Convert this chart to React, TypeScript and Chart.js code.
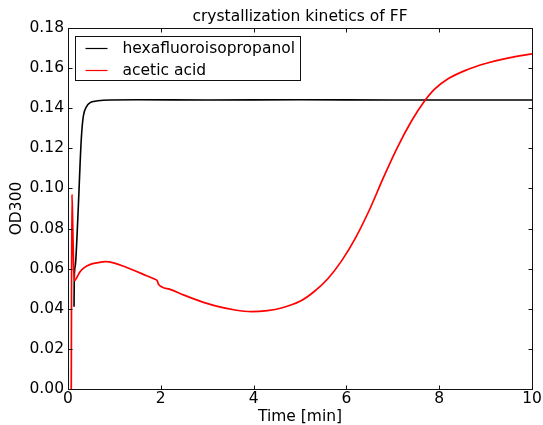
import React, { useEffect, useRef } from "react";
import { Chart, registerables } from "chart.js";

Chart.register(...registerables);

const chartTitle = "crystallization kinetics of FF";
const xAxisTitle = "Time [min]";
const yAxisTitle = "OD300";
const seriesLabels = ["hexafluoroisopropanol", "acetic acid"];
const seriesColors = ["#000000", "#ff0000"];

const xTicks = [0, 2, 4, 6, 8, 10];
const yTicks = [0, 0.02, 0.04, 0.06, 0.08, 0.1, 0.12, 0.14, 0.16, 0.18];

const hfipTime = [0.13, 0.135, 0.16, 0.19, 0.23, 0.26, 0.29, 0.33, 0.4, 0.48, 0.55, 0.76, 1.5, 3, 5, 7, 8, 10];
const hfipOD = [0.041, 0.055, 0.062, 0.074, 0.095, 0.112, 0.126, 0.136, 0.1408, 0.1428, 0.1434, 0.144, 0.1442, 0.1441, 0.1442, 0.1441, 0.1441, 0.1441];

const aceticTime = [0.07, 0.085, 0.1, 0.12, 0.14, 0.2, 0.26, 0.35, 0.47, 0.65, 0.8, 1.0, 1.2, 1.4, 1.6, 1.875, 1.92, 1.95, 2.2, 2.5, 2.8, 3.2, 3.6, 3.95, 4.3, 4.6, 5.0, 5.3, 5.6, 5.9, 6.2, 6.5, 6.8, 7.1, 7.4, 7.65, 7.9, 8.2, 8.6, 9.0, 9.5, 10];
const aceticOD = [0.0, 0.097, 0.084, 0.062, 0.054, 0.056, 0.0585, 0.0605, 0.062, 0.063, 0.0635, 0.0628, 0.0612, 0.0593, 0.0574, 0.0547, 0.0541, 0.0522, 0.0497, 0.0468, 0.0442, 0.0413, 0.0394, 0.0386, 0.0391, 0.0404, 0.0437, 0.0485, 0.055, 0.064, 0.0755, 0.0895, 0.1055, 0.1205, 0.1335, 0.1425, 0.1495, 0.1548, 0.1592, 0.1623, 0.1651, 0.1671];

const FONT = "'DejaVu Sans', sans-serif";
const FS = 15.5;

const framePlugin = {
  id: "frameTicks",
  afterDatasetsDraw(chart: any) {
    const { ctx, chartArea } = chart;
    const { left, right, top, bottom } = chartArea;
    const xs = chart.scales.x;
    const ys = chart.scales.y;
    ctx.save();
    ctx.strokeStyle = "#111";
    ctx.lineWidth = 1;
    const L = Math.round(left) + 0.5;
    const R = Math.round(right) + 0.5;
    const T = Math.round(top) + 0.5;
    const B = Math.round(bottom) + 0.5;
    ctx.strokeRect(L, T, R - L, B - T);
    const len = 4;
    ctx.beginPath();
    xTicks.forEach((v) => {
      const px = Math.round(xs.getPixelForValue(v)) + 0.5;
      ctx.moveTo(px, B);
      ctx.lineTo(px, B - len);
      ctx.moveTo(px, T);
      ctx.lineTo(px, T + len);
    });
    yTicks.forEach((v) => {
      const py = Math.round(ys.getPixelForValue(v)) + 0.5;
      ctx.moveTo(L, py);
      ctx.lineTo(L + len, py);
      ctx.moveTo(R, py);
      ctx.lineTo(R - len, py);
    });
    ctx.stroke();
    ctx.restore();
  },
};

const legendPlugin = {
  id: "insideLegend",
  afterDraw(chart: any) {
    const { ctx, chartArea } = chart;
    const datasets = chart.data.datasets;
    ctx.save();
    ctx.font = `${FS}px ${FONT}`;
    let maxW = 0;
    datasets.forEach((d: any) => {
      maxW = Math.max(maxW, ctx.measureText(d.label).width);
    });
    const boxL = Math.round(chartArea.left + 7) + 0.5;
    const boxT = Math.round(chartArea.top + 8) + 0.5;
    const rowH = 22;
    const lineX0 = boxL + 10;
    const lineX1 = boxL + 32;
    const textX = boxL + 47;
    const boxW = Math.round(textX - boxL + maxW + 5);
    const boxH = Math.round(rowH * datasets.length);
    ctx.fillStyle = "#fff";
    ctx.fillRect(boxL, boxT, boxW, boxH);
    ctx.strokeStyle = "#111";
    ctx.lineWidth = 1;
    ctx.strokeRect(boxL, boxT, boxW, boxH);
    datasets.forEach((d: any, i: number) => {
      const cy = boxT + 11 + i * rowH;
      ctx.strokeStyle = d.borderColor;
      ctx.lineWidth = 1.2;
      ctx.beginPath();
      ctx.moveTo(lineX0, Math.round(cy) + 0.5);
      ctx.lineTo(lineX1, Math.round(cy) + 0.5);
      ctx.stroke();
      ctx.fillStyle = "#000";
      ctx.textBaseline = "middle";
      ctx.textAlign = "left";
      ctx.fillText(d.label, textX, cy + 1);
    });
    ctx.restore();
  },
};

export default function App() {
  const canvasRef = useRef<HTMLCanvasElement | null>(null);

  useEffect(() => {
    const canvas = canvasRef.current;
    if (!canvas) return;
    const chart = new Chart(canvas, {
      type: "line",
      data: {
        datasets: [
          {
            label: seriesLabels[0],
            data: hfipTime.map((t, i) => ({ x: t, y: hfipOD[i] })),
            borderColor: seriesColors[0],
            backgroundColor: seriesColors[0],
            borderWidth: 1.6,
            pointRadius: 0,
            cubicInterpolationMode: "monotone",
            order: 2,
          },
          {
            label: seriesLabels[1],
            data: aceticTime.map((t, i) => ({ x: t, y: aceticOD[i] })),
            borderColor: seriesColors[1],
            backgroundColor: seriesColors[1],
            borderWidth: 1.7,
            pointRadius: 0,
            cubicInterpolationMode: "monotone",
            order: 1,
          },
        ],
      },
      options: {
        animation: false,
        responsive: false,
        devicePixelRatio: 1,
        layout: { padding: { left: 0, right: 11, top: 0, bottom: 0 } },
        plugins: {
          legend: { display: false },
          tooltip: { enabled: false },
          title: {
            display: true,
            text: chartTitle,
            fullSize: false,
            color: "#000",
            font: { size: FS, family: FONT, weight: "normal" },
            padding: { top: 8, bottom: 1.4 },
          },
        },
        scales: {
          x: {
            type: "linear",
            min: 0,
            max: 10,
            afterBuildTicks: (s: any) => {
              s.ticks = xTicks.map((v) => ({ value: v }));
            },
            afterFit: (s: any) => {
              s.height = 36;
            },
            grid: { display: false, drawTicks: false },
            border: { display: false },
            ticks: {
              color: "#000",
              font: { size: FS, family: FONT },
              padding: 1,
              maxRotation: 0,
              autoSkip: false,
              callback: (v: any) => String(v),
            },
            title: {
              display: true,
              text: xAxisTitle,
              color: "#000",
              font: { size: FS, family: FONT },
              padding: { top: 0, bottom: -1 },
            },
          },
          y: {
            type: "linear",
            min: 0,
            max: 0.18,
            afterBuildTicks: (s: any) => {
              s.ticks = yTicks.map((v) => ({ value: v }));
            },
            afterFit: (s: any) => {
              s.width = 68;
            },
            grid: { display: false, drawTicks: false },
            border: { display: false },
            ticks: {
              color: "#000",
              font: { size: FS, family: FONT },
              padding: 4,
              autoSkip: false,
              callback: (v: any) => Number(v).toFixed(2),
            },
            title: {
              display: true,
              text: yAxisTitle,
              color: "#000",
              font: { size: FS, family: FONT },
              padding: { top: 8, bottom: 0 },
            },
          },
        },
      } as any,
      plugins: [framePlugin, legendPlugin],
    });
    return () => chart.destroy();
  }, []);

  return (
    <div style={{ position: "fixed", left: 0, top: 0, width: 543, height: 425, background: "#fff" }}>
      <canvas ref={canvasRef} width={543} height={425} style={{ width: 543, height: 425, display: "block" }} />
    </div>
  );
}
